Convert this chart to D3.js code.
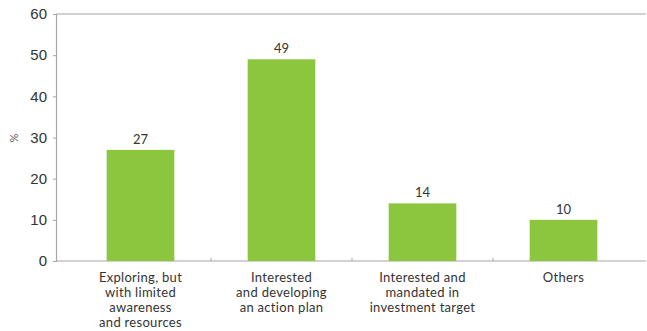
<!DOCTYPE html>
<html>
<head>
<meta charset="utf-8">
<script src="https://cdn.jsdelivr.net/npm/d3@7"></script>
<style>
  html, body { margin: 0; padding: 0; background: #fff; }
  svg { display: block; font-family: Lato, "Open Sans", sans-serif; }
</style>
</head>
<body>
<svg id="chart" width="647" height="331"></svg>
<script>
const categories = [
  ["Exploring, but", "with limited", "awareness", "and resources"],
  ["Interested", "and developing", "an action plan"],
  ["Interested and", "mandated in", "investment target"],
  ["Others"]
];
const values = [27, 49, 14, 10];
const yTicks = [0, 10, 20, 30, 40, 50, 60];

const svg = d3.select("#chart");
const plotLeft = 56, plotRight = 646, plotTop = 14, plotBottom = 261;

const x = d3.scaleBand()
  .domain(d3.range(categories.length))
  .range([70, 634])
  .paddingInner(0.52)
  .paddingOuter(0.26);

const y = d3.scaleLinear().domain([0, 60]).range([plotBottom, plotTop]);

// frame: left axis, top line, baseline
svg.append("line").attr("x1", plotLeft).attr("x2", plotRight).attr("y1", plotTop).attr("y2", plotTop)
  .attr("stroke", "#a6a6a6").attr("stroke-width", 1.2);

const yAxis = svg.append("g").attr("transform", `translate(${plotLeft},0)`)
  .call(d3.axisLeft(y).tickValues(yTicks).tickSize(3).tickPadding(6));
yAxis.select(".domain").attr("stroke", "#a6a6a6").attr("stroke-width", 1.2);
yAxis.selectAll(".tick line").attr("stroke", "#a6a6a6");
yAxis.selectAll(".tick text").attr("fill", "#333").style("font-size", "15px");

svg.append("line").attr("x1", plotLeft).attr("x2", plotRight).attr("y1", plotBottom).attr("y2", plotBottom)
  .attr("stroke", "#a6a6a6").attr("stroke-width", 1.2);

// category separator ticks
const step = x.step();
d3.range(1, categories.length).forEach(i => {
  const xs = x(i) - (step - x.bandwidth()) / 2;
  svg.append("line").attr("x1", xs).attr("x2", xs).attr("y1", plotBottom).attr("y2", plotBottom - 3)
    .attr("stroke", "#a6a6a6");
});

// bars
svg.selectAll("rect.bar").data(values).join("rect")
  .attr("class", "bar")
  .attr("x", (d, i) => x(i))
  .attr("width", x.bandwidth())
  .attr("y", d => y(d))
  .attr("height", d => y(0) - y(d))
  .attr("fill", "#8cc63f");

// value labels
svg.selectAll("text.val").data(values).join("text")
  .attr("class", "val")
  .attr("x", (d, i) => x(i) + x.bandwidth() / 2)
  .attr("y", d => y(d) - 6)
  .attr("text-anchor", "middle")
  .attr("fill", "#333")
  .style("font-size", "13px")
  .text(d => d);

// category labels
categories.forEach((lines, i) => {
  const t = svg.append("text")
    .attr("x", x(i) + x.bandwidth() / 2)
    .attr("y", 282)
    .attr("text-anchor", "middle")
    .attr("fill", "#333")
    .style("font-size", "13px")
    .style("letter-spacing", "0.3px");
  lines.forEach((l, j) => {
    t.append("tspan").attr("x", x(i) + x.bandwidth() / 2).attr("dy", j === 0 ? 0 : 15).text(l);
  });
});

// y-axis title
svg.append("text")
  .attr("transform", "translate(18,138) rotate(-90)")
  .attr("text-anchor", "middle")
  .attr("fill", "#555")
  .style("font-size", "11px")
  .text("%");
</script>
</body>
</html>
